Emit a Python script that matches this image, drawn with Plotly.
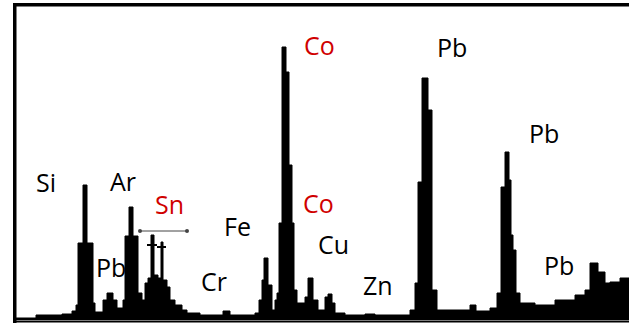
import plotly.graph_objects as go

# Spectrum profile (channel, counts)
channel = [16, 36, 62, 72, 76, 78, 83, 87, 93, 95, 103, 107, 113, 117, 123, 125, 129, 133, 138, 142,
           145, 148, 151, 154, 158, 161, 163, 167, 170, 175, 182, 187, 200, 223, 230, 255, 259, 262, 264, 268,
           272, 275, 277, 279, 282, 286, 289, 292, 294, 297, 305, 308, 313, 318, 325, 328, 332, 335, 345, 365,
           375, 410, 415, 418, 422, 428, 432, 437, 470, 476, 490, 497, 501, 505, 509, 511, 513, 516, 520, 535,
           555, 575, 585, 590, 598, 605, 610, 620, 629]
counts = [2, 5, 6, 9, 15, 77, 135, 77, 17, 8, 20, 27, 20, 12, 20, 84, 113, 84, 27, 20,
          37, 42, 85, 45, 42, 78, 40, 33, 20, 15, 10, 7, 5, 9, 5, 7, 20, 40, 62, 35,
          10, 20, 27, 97, 273, 248, 155, 97, 30, 17, 23, 42, 20, 10, 23, 26, 17, 7, 5, 6,
          5, 10, 37, 138, 242, 210, 30, 10, 15, 9, 12, 27, 133, 168, 140, 85, 70, 27, 17, 15,
          20, 25, 30, 57, 48, 37, 38, 42, 42]

# Sn marker bars
sn_bar_x = [147, 157, None, 157, 166]
sn_bar_y = [75, 75, None, 73, 73]
sn_bracket_x = [140, 187]
sn_bracket_y = [89, 89]

# Element labels
labels = ["Si", "Pb", "Ar", "Sn", "Cr", "Fe", "Co", "Co", "Cu", "Zn", "Pb", "Pb", "Pb"]
label_x = [46, 111, 123, 169, 214, 237, 319, 318, 333, 378, 452, 544, 559]
label_y = [138, 53, 139, 116, 39, 94, 275, 117, 76, 35, 273, 187, 55]
label_color = ["#000", "#000", "#000", "#d00000", "#000", "#000", "#d00000", "#d00000",
               "#000", "#000", "#000", "#000", "#000"]

fig = go.Figure()
fig.add_trace(go.Scatter(x=channel, y=counts, mode="lines", line_shape="hv",
                         line=dict(color="black", width=1), fill="tozeroy",
                         fillcolor="black", hoverinfo="skip"))
fig.add_trace(go.Scatter(x=sn_bar_x, y=sn_bar_y, mode="lines",
                         line=dict(color="black", width=2), hoverinfo="skip"))
fig.add_trace(go.Scatter(x=sn_bracket_x, y=sn_bracket_y, mode="lines+markers",
                         line=dict(color="#444", width=1),
                         marker=dict(size=4, color="#444"), hoverinfo="skip"))

for t, x, y, c in zip(labels, label_x, label_y, label_color):
    fig.add_annotation(x=x, y=y, text=t, showarrow=False, xanchor="center", yanchor="middle",
                       font=dict(family="Open Sans", size=25, color=c))

# frame
fig.add_shape(type="rect", x0=13, x1=16.5, y0=-3, y1=317, fillcolor="black", line_width=0)
fig.add_shape(type="rect", x0=13, x1=629, y0=313.5, y1=317, fillcolor="black", line_width=0)
fig.add_shape(type="rect", x0=13, x1=629, y0=-0.5, y1=-2.5, fillcolor="black", line_width=0)

fig.update_layout(width=629, height=326, margin=dict(l=0, r=0, t=0, b=0),
                  paper_bgcolor="white", plot_bgcolor="white", showlegend=False,
                  xaxis=dict(range=[0, 629], visible=False, fixedrange=True),
                  yaxis=dict(range=[-6, 320], visible=False, fixedrange=True))
fig.write_html("out.html")
